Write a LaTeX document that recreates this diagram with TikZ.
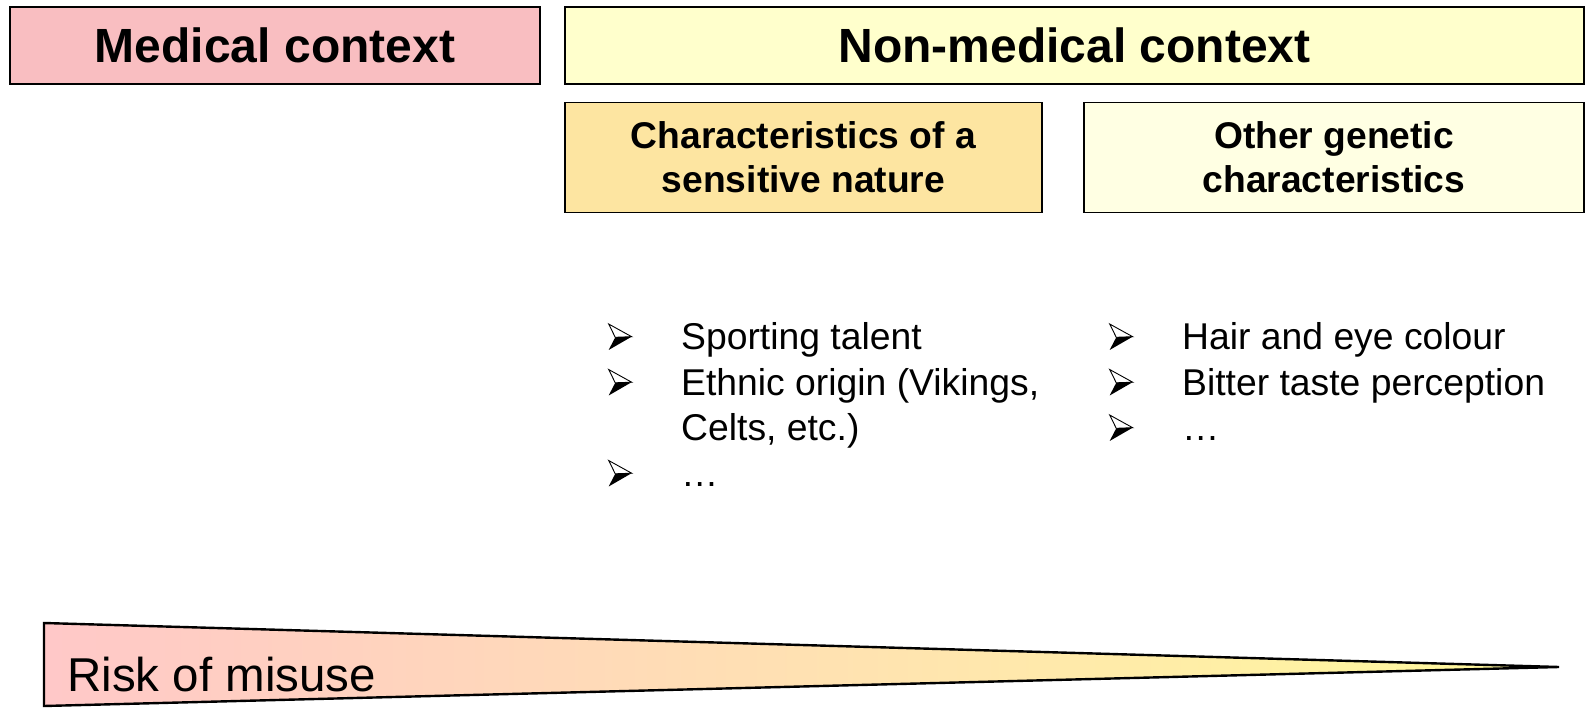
\documentclass[tikz,border=0pt]{standalone}
\usepackage{fontspec}
\setmainfont{Liberation Sans}
\usetikzlibrary{positioning}
\definecolor{medpink}{HTML}{F9BEC1}
\definecolor{nonmedyellow}{HTML}{FFFFCC}
\definecolor{sensorange}{HTML}{FDE5A1}
\definecolor{otheryellow}{HTML}{FFFFE3}
\definecolor{riskpink}{HTML}{FFC8C8}
\definecolor{riskyellow}{HTML}{FFFA9C}
% arrowhead bullet
\newcommand{\bul}{\tikz[baseline=0pt, x=1pt, y=1pt, line join=miter]{
  \fill[black] (6.6,12.7) -- (23,13.3) -- (0,0) -- cycle;
  \draw[line width=0.9pt] (0,26) -- (23,13.3) -- (6.6,12.7) -- cycle;}}
\tikzset{
  ctxbox/.style={draw, line width=1.5pt, inner sep=0pt, minimum height=77pt,
    font=\bfseries\fontsize{48}{50}\selectfont},
  subbox/.style={draw, line width=1.5pt, inner sep=0pt, minimum height=110pt,
    align=center, font=\bfseries\fontsize{37.2}{44}\selectfont},
  itemlist/.style={inner sep=0pt, anchor=base west, font=\fontsize{37.3}{45.5}\selectfont}
}

\begin{document}
\begin{tikzpicture}[x=1pt,y=-1pt]
\useasboundingbox (0,0) rectangle (1587,708);

% Define nodes
\node[ctxbox, fill=medpink, minimum width=530pt]       (med)    at (275,45.5)    {Medical context};
\node[ctxbox, fill=nonmedyellow, minimum width=1019pt] (nonmed) at (1074.5,45.5) {Non-medical context};
\node[subbox, fill=sensorange, minimum width=477pt, below right=17pt and 0pt of nonmed.south west, anchor=north west]
  (sens) {Characteristics of a\\sensitive nature};
\node[subbox, fill=otheryellow, minimum width=500pt, below left=17pt and 0pt of nonmed.south east, anchor=north east]
  (other) {Other genetic\\characteristics};

% Lists
\node[itemlist] (senslist) at (608,350) {\begin{tabular}[t]{@{}p{73pt}@{}l@{}}
  \bul & Sporting talent\\
  \bul & Ethnic origin (Vikings,\\
       & Celts, etc.)\\
  \bul & …
\end{tabular}};
\node[itemlist] (otherlist) at (1109,350) {\begin{tabular}[t]{@{}p{73pt}@{}l@{}}
  \bul & Hair and eye colour\\
  \bul & Bitter taste perception\\
  \bul & …
\end{tabular}};

% Risk wedge
\coordinate (wtop) at (44,623);
\coordinate (wtip) at (1559,667);
\coordinate (wbot) at (44,706);
\shade[left color=riskpink, right color=riskyellow] (wtop) -- (wtip) -- (wbot) -- cycle;
\draw[line width=2.4pt, line join=miter] (wtop) -- (wtip) -- (wbot) -- cycle;
\node[anchor=base west, inner sep=0pt, font=\fontsize{47.5}{50}\selectfont] (risk) at (67,691) {Risk of misuse};

\end{tikzpicture}
\end{document}
